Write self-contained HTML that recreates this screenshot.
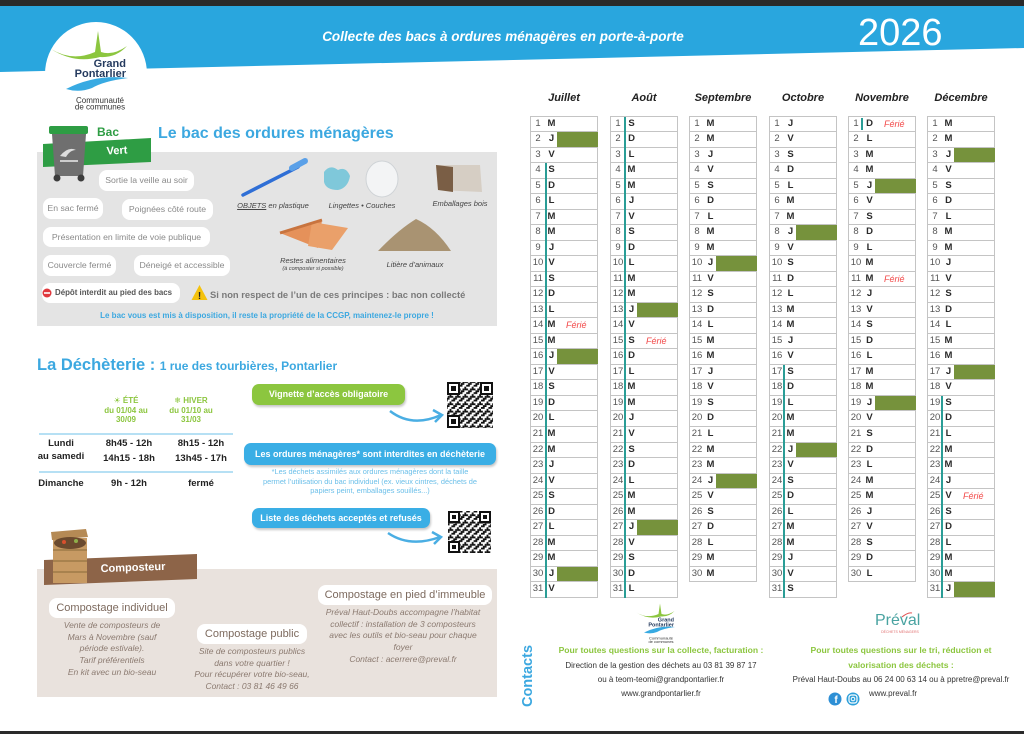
<!DOCTYPE html>
<html lang="fr"><head><meta charset="utf-8"><title>Collecte des bacs 2026</title>
<style>
*{margin:0;padding:0;box-sizing:border-box}
html,body{width:1024px;height:734px;overflow:hidden;background:#fff}
body{position:relative;font-family:"Liberation Sans","DejaVu Sans",Arial,sans-serif;color:#333}
svg text{font-family:"Liberation Sans","DejaVu Sans",Arial,sans-serif}
.a{position:absolute;white-space:nowrap}
.cen{text-align:center}
svg.bg{position:absolute;left:0;top:0}
.pill{position:absolute;background:#fff;border-radius:8px;text-align:center;color:#8a8a8a;font-size:8.7px;white-space:nowrap}
.cp{position:absolute;background:#fff;border-radius:8px;text-align:center;color:#7d6a5e;font-size:11px;white-space:nowrap;line-height:20px;height:20px}
.it{position:absolute;text-align:center;font-style:italic;color:#8b7a70;font-size:8.5px;line-height:11.7px;white-space:nowrap}
.btn{position:absolute;border-radius:7px;color:#fff;font-weight:bold;font-size:9px;text-align:center;white-space:nowrap;box-shadow:1px 2px 2px rgba(0,0,0,.22)}
.mh{position:absolute;top:91px;width:68px;text-align:center;font:italic bold 11px/14px "Liberation Sans",Arial,sans-serif;color:#222}
.c{position:absolute;top:115.7px;width:68px;border:1px solid #c4c4c4;border-bottom:none;background:#fff}
.r{position:relative;height:15.53px;border-bottom:1px solid #c4c4c4;font-size:9.5px;line-height:14.5px}
.r i{position:absolute;left:1px;width:12px;text-align:center;font-style:normal;color:#555}
.r b{position:absolute;left:15px;width:11px;text-align:center;color:#2a2a2a}
.g::after{content:"";position:absolute;left:26px;right:-1px;top:0;bottom:0;background:#76923c}
.r em{position:absolute;left:35px;color:#f24a4a;font-size:9px}
.tl{position:absolute;left:13px;width:2px;background:#2a9d96;z-index:2}
.cap{position:absolute;text-align:center;font-style:italic;color:#444;font-size:7.5px;white-space:nowrap}
.gr{color:#8cc63f;font-weight:bold;font-size:8px;line-height:9.5px}
.tm{position:absolute;text-align:center;font-weight:bold;font-size:9.5px;color:#222;white-space:nowrap;line-height:14px}
.ct{position:absolute;text-align:center;white-space:nowrap;font-size:8px;color:#333;line-height:14px}
.cg{position:absolute;text-align:center;white-space:nowrap;font-size:8.6px;color:#8cc63f;font-weight:bold;line-height:15px}
</style></head><body>

<svg class="bg" width="1024" height="734" viewBox="0 0 1024 734">
<defs>
<pattern id="q" width="7.4" height="7.4" patternUnits="userSpaceOnUse">
<rect width="7.4" height="7.4" fill="#fff"/>
<rect x="0" y="0" width="3.7" height="1.85" fill="#111"/>
<rect x="5.55" y="1.85" width="1.85" height="3.7" fill="#111"/>
<rect x="0" y="3.7" width="1.85" height="1.85" fill="#111"/>
<rect x="1.85" y="5.55" width="3.7" height="1.85" fill="#111"/>
<rect x="3.7" y="3.7" width="1.85" height="1.85" fill="#111"/>
</pattern>
</defs>
<rect x="0" y="0" width="1024" height="6" fill="#2a2a2a"/>
<rect x="0" y="731" width="1024" height="3" fill="#2a2a2a"/>
<polygon points="0,6 1024,6 1024,48 0,72" fill="#29a6de"/>
<ellipse cx="96" cy="74" rx="51" ry="52" fill="#fff"/>
<!-- main logo -->
<path d="M51,49 Q72,62 95,52 L98,31 L101,52 Q113,56 127,46 Q116,58 100,57 Q74,64 51,49Z" fill="#8cc63f"/>
<text x="126" y="67" text-anchor="end" font-weight="bold" font-size="11" fill="#243a5e">Grand</text>
<text x="126" y="77" text-anchor="end" font-weight="bold" font-size="11" fill="#243a5e">Pontarlier</text>
<path d="M66,89 Q96,74 128,78 Q104,81 92,88 Q79,93 66,89Z" fill="#38aae2"/>
<text x="100" y="103" text-anchor="middle" font-size="8" fill="#333">Communauté</text>
<text x="100" y="109.5" text-anchor="middle" font-size="8" fill="#333">de communes</text>

<!-- bac section -->
<rect x="37" y="152" width="460" height="174" fill="#e4e4e4"/>
<polygon points="43,144 151,138 151,162 43,167" fill="#2e9d44"/>
<rect x="49" y="126" width="39" height="8" rx="2" fill="#2e9d44"/>
<polygon points="52,134 86,134 83,176 55,176" fill="#6f6f6f"/>
<path d="M60,156 Q68,146 76,150 Q70,150 66,157Z" fill="#ddd"/>
<rect x="60" y="160" width="18" height="2" fill="#ccc"/>
<circle cx="57" cy="178" r="3.5" fill="#3c3c3c"/><circle cx="81" cy="178" r="3.5" fill="#3c3c3c"/>
<line x1="243" y1="195" x2="298" y2="167" stroke="#2f6fd6" stroke-width="3.5" stroke-linecap="round"/>
<line x1="292" y1="168" x2="305" y2="161" stroke="#5aa0e8" stroke-width="6" stroke-linecap="round"/>
<path d="M324,172 Q330,164 338,170 Q346,166 350,176 Q348,188 338,190 Q326,190 324,182Z" fill="#7fc8da"/>
<ellipse cx="382" cy="179" rx="16" ry="18" fill="#f3f4f5" stroke="#cfd3d6"/>
<path d="M436,165 L480,165 L482,192 L438,190Z" fill="#d6cec4"/>
<path d="M436,165 L453,167 L453,192 L438,190Z" fill="#7a5e45"/>
<polygon points="280,233 322,220 318,248" fill="#e5915a"/>
<polygon points="312,222 348,228 332,250 308,246" fill="#eaa06a"/>
<path d="M280,233 L322,220" stroke="#c8743f" stroke-width="3"/>
<path d="M378,251 Q398,230 416,219 Q436,228 451,251Z" fill="#a99372"/>
<polygon points="199.5,285 207.5,300 191.5,300" fill="#f4c20d"/>
<text x="199.5" y="299" text-anchor="middle" font-size="10" font-weight="bold" fill="#222">!</text>

<!-- dechetterie -->
<line x1="39" y1="434" x2="233" y2="434" stroke="#9dd5f0" stroke-width="1.5"/>
<line x1="39" y1="472" x2="233" y2="472" stroke="#9dd5f0" stroke-width="1.5"/>
<rect x="447" y="382" width="46" height="46" fill="url(#q)"/>
<g fill="#111"><rect x="447" y="382" width="13" height="13"/><rect x="480" y="382" width="13" height="13"/><rect x="447" y="415" width="13" height="13"/></g>
<g fill="#fff"><rect x="449" y="384" width="9" height="9"/><rect x="482" y="384" width="9" height="9"/><rect x="449" y="417" width="9" height="9"/></g>
<g fill="#111"><rect x="451" y="386" width="5" height="5"/><rect x="484" y="386" width="5" height="5"/><rect x="451" y="419" width="5" height="5"/></g>
<rect x="448" y="511" width="43" height="42" fill="url(#q)"/>
<g fill="#111"><rect x="448" y="511" width="12" height="12"/><rect x="479" y="511" width="12" height="12"/><rect x="448" y="541" width="12" height="12"/></g>
<g fill="#fff"><rect x="450" y="513" width="8" height="8"/><rect x="481" y="513" width="8" height="8"/><rect x="450" y="543" width="8" height="8"/></g>
<g fill="#111"><rect x="452" y="515" width="4" height="4"/><rect x="483" y="515" width="4" height="4"/><rect x="452" y="545" width="4" height="4"/></g>
<path d="M390,411 Q412,428 441,415" stroke="#4aaee3" stroke-width="2.5" fill="none"/>
<path d="M433,410 L442,415 L435,422" stroke="#4aaee3" stroke-width="2.5" fill="none"/>
<path d="M388,533 Q410,548 440,537" stroke="#4aaee3" stroke-width="2.5" fill="none"/>
<path d="M432,532 L441,537 L434,544" stroke="#4aaee3" stroke-width="2.5" fill="none"/>

<!-- composteur -->
<rect x="37" y="569" width="460" height="128" fill="#e9e2dd"/>
<polygon points="44,560 197,554 197,579 44,585" fill="#8d6448"/>
<rect x="53" y="538" width="34" height="45" fill="#c79a63"/>
<g stroke="#8a6a3a" stroke-width="1"><line x1="53" y1="550" x2="87" y2="550"/><line x1="53" y1="561" x2="87" y2="561"/><line x1="53" y1="572" x2="87" y2="572"/></g>
<polygon points="51,532 86,529 88,537 52,540" fill="#b58a55"/>
<ellipse cx="70" cy="543" rx="16" ry="6" fill="#6b4a2e"/>
<circle cx="64" cy="542" r="2" fill="#d9502e"/><circle cx="76" cy="541" r="2" fill="#8fb04a"/>

<!-- contacts icons -->
<circle cx="835" cy="699" r="6.5" fill="#2d8fd5"/>
<text x="836" y="703" text-anchor="middle" font-size="10" font-weight="bold" fill="#fff">f</text>
<circle cx="853" cy="699" r="6.5" fill="#2d9fd9"/>
<rect x="849" y="695" width="8" height="8" rx="2.5" fill="none" stroke="#fff" stroke-width="1.2"/>
<circle cx="853" cy="699" r="1.8" fill="none" stroke="#fff" stroke-width="1"/>

<!-- small GP logo -->
<g transform="translate(611,588) scale(0.5)">
<path d="M51,49 Q72,62 95,52 L98,31 L101,52 Q113,56 127,46 Q116,58 100,57 Q74,64 51,49Z" fill="#8cc63f"/>
<text x="126" y="67" text-anchor="end" font-weight="bold" font-size="11" fill="#243a5e">Grand</text>
<text x="126" y="77" text-anchor="end" font-weight="bold" font-size="11" fill="#243a5e">Pontarlier</text>
<path d="M66,89 Q96,74 128,78 Q104,81 92,88 Q79,93 66,89Z" fill="#38aae2"/>
<text x="100" y="103" text-anchor="middle" font-size="8" fill="#333">Communauté</text>
<text x="100" y="109.5" text-anchor="middle" font-size="8" fill="#333">de communes</text>
</g>
<path d="M902,617 Q908,612 912,613" stroke="#e05050" stroke-width="1" fill="none"/>
</svg>

<!-- header text -->
<div class="a cen" style="left:298px;top:29px;width:410px;font:italic bold 13.5px/16px 'Liberation Sans',Arial,sans-serif;color:#fff">Collecte des bacs à ordures ménagères en porte-à-porte</div>
<div class="a" style="left:858px;top:13px;font-size:38px;line-height:40px;color:#fff">2026</div>

<!-- bac -->
<div class="a" style="left:97px;top:125px;font-size:12px;line-height:14px;font-weight:bold;color:#2e9d44">Bac</div>
<div class="a cen" style="left:97px;top:145px;width:40px;font-size:11px;line-height:13px;font-weight:bold;color:#fff;transform:rotate(-3deg)">Vert</div>
<div class="a" style="left:158px;top:124px;font-size:16px;line-height:20px;font-weight:bold;color:#3ca8e0">Le bac des ordures ménagères</div>
<div class="pill" style="left:99px;top:170px;width:95px;height:21px;line-height:21px">Sortie la veille au soir</div>
<div class="pill" style="left:43px;top:198px;width:60px;height:21px;line-height:21px">En sac fermé</div>
<div class="pill" style="left:122px;top:199px;width:91px;height:21px;line-height:21px">Poignées côté route</div>
<div class="pill" style="left:43px;top:227px;width:167px;height:20px;line-height:20px">Présentation en limite de voie publique</div>
<div class="pill" style="left:43px;top:255px;width:73px;height:21px;line-height:21px">Couvercle fermé</div>
<div class="pill" style="left:134px;top:255px;width:96px;height:21px;line-height:21px">Déneigé et accessible</div>
<div class="pill" style="left:42px;top:283px;width:138px;height:20px;line-height:20px;text-align:left;padding-left:13px;font-weight:bold;color:#555;font-size:7.9px">Dépôt interdit au pied des bacs</div>
<svg class="bg" width="1024" height="734" style="pointer-events:none"><circle cx="47" cy="293" r="4.5" fill="#e0393e"/><rect x="44" y="292.2" width="6" height="1.6" fill="#fff"/></svg>
<div class="a" style="left:210px;top:288px;font-size:9.4px;line-height:14px;font-weight:bold;color:#7a7a7a">Si non respect de l’un de ces principes : bac non collecté</div>
<div class="a cen" style="left:57px;top:310px;width:420px;font-size:8px;line-height:12px;font-weight:bold;color:#3ca8e0">Le bac vous est mis à disposition, il reste la propriété de la CCGP, maintenez-le propre !</div>
<div class="cap" style="left:223px;top:201px;width:100px;line-height:10px"><u>OBJETS</u> en plastique</div>
<div class="cap" style="left:312px;top:201px;width:100px;line-height:10px">Lingettes • Couches</div>
<div class="cap" style="left:410px;top:199px;width:100px;line-height:10px">Emballages bois</div>
<div class="cap" style="left:263px;top:256px;width:100px;line-height:10px">Restes alimentaires</div>
<div class="cap" style="left:263px;top:266px;width:100px;line-height:6px;font-size:5.5px">(à composter si possible)</div>
<div class="cap" style="left:365px;top:260px;width:100px;line-height:10px">Litière d’animaux</div>

<!-- dechetterie -->
<div class="a" style="left:37px;top:355px;line-height:20px;color:#3ca8e0;font-weight:bold"><span style="font-size:16.5px">La Déchèterie :</span> <span style="font-size:12px">1 rue des tourbières, Pontarlier</span></div>
<div class="a cen gr" style="left:86px;top:396px;width:80px">☀ ÉTÉ<br>du 01/04 au<br>30/09</div>
<div class="a cen gr" style="left:151px;top:396px;width:80px">❄ HIVER<br>du 01/10 au<br>31/03</div>
<div class="tm" style="left:21px;top:437px;width:80px">Lundi</div>
<div class="tm" style="left:21px;top:450px;width:80px">au samedi</div>
<div class="tm" style="left:89px;top:437px;width:80px">8h45 - 12h</div>
<div class="tm" style="left:89px;top:452px;width:80px">14h15 - 18h</div>
<div class="tm" style="left:161px;top:437px;width:80px">8h15 - 12h</div>
<div class="tm" style="left:161px;top:452px;width:80px">13h45 - 17h</div>
<div class="tm" style="left:21px;top:477px;width:80px">Dimanche</div>
<div class="tm" style="left:89px;top:477px;width:80px">9h - 12h</div>
<div class="tm" style="left:161px;top:477px;width:80px">fermé</div>
<div class="btn" style="left:252px;top:384px;width:153px;height:21px;line-height:20px;background:#8cc63f">Vignette d’accès obligatoire</div>
<div class="btn" style="left:244px;top:443px;width:252px;height:22px;line-height:22px;background:#3aaee5">Les ordures ménagères* sont interdites en déchèterie</div>
<div class="a cen" style="left:240px;top:467px;width:260px;font-size:7.4px;line-height:9.5px;color:#6bbfe9">*Les déchets assimilés aux ordures ménagères dont la taille<br>permet l’utilisation du bac individuel (ex. vieux cintres, déchets de<br>papiers peint, emballages souillés...)</div>
<div class="btn" style="left:252px;top:508px;width:178px;height:20px;line-height:20px;background:#3aaee5">Liste des déchets acceptés et refusés</div>

<!-- composteur -->
<div class="a cen" style="left:93px;top:561px;width:80px;font-size:11px;line-height:14px;font-weight:bold;color:#fff;transform:rotate(-2deg)">Composteur</div>
<div class="cp" style="left:49px;top:598px;width:126px">Compostage individuel</div>
<div class="cp" style="left:197px;top:624px;width:110px">Compostage public</div>
<div class="cp" style="left:318px;top:585px;width:174px">Compostage en pied d’immeuble</div>
<div class="it" style="left:42px;top:620px;width:140px">Vente de composteurs de<br>Mars à Novembre (sauf<br>période estivale).<br>Tarif préférentiels<br>En kit avec un bio-seau</div>
<div class="it" style="left:182px;top:646px;width:140px">Site de composteurs publics<br>dans votre quartier !<br>Pour récupérer votre bio-seau,<br>Contact : 03 81 46 49 66</div>
<div class="it" style="left:313px;top:607px;width:180px">Préval Haut-Doubs accompagne l’habitat<br>collectif : installation de 3 composteurs<br>avec les outils et bio-seau pour chaque<br>foyer<br>Contact : acerrere@preval.fr</div>

<!-- contacts -->
<div class="a cen" style="left:488px;top:667px;width:80px;height:18px;font-size:14.5px;line-height:18px;font-weight:bold;color:#3ca8e0;transform:rotate(-90deg)">Contacts</div>
<div class="cg" style="left:540px;top:643px;width:242px">Pour toutes questions sur la collecte, facturation :</div>
<div class="ct" style="left:541px;top:659px;width:240px">Direction de la gestion des déchets au 03 81 39 87 17</div>
<div class="ct" style="left:541px;top:673px;width:240px">ou à teom-teomi@grandpontarlier.fr</div>
<div class="ct" style="left:541px;top:687px;width:240px">www.grandpontarlier.fr</div>
<div class="a" style="left:875px;top:611px;font-size:16px;line-height:20px;color:#49a3a1">Préval</div>
<div class="a cen" style="left:880px;top:630px;width:40px;font-size:3.5px;line-height:4px;color:#e07070">DÉCHETS MÉNAGERS</div>
<div class="cg" style="left:780px;top:643px;width:242px">Pour toutes questions sur le tri, réduction et</div>
<div class="cg" style="left:780px;top:658px;width:242px">valorisation des déchets :</div>
<div class="ct" style="left:776px;top:673px;width:250px">Préval Haut-Doubs au 06 24 00 63 14 ou à ppretre@preval.fr</div>
<div class="ct" style="left:869px;top:687px">www.preval.fr</div>

<!-- calendar headers -->
<div class="mh" style="left:530px">Juillet</div>
<div class="mh" style="left:610px">Août</div>
<div class="mh" style="left:689px">Septembre</div>
<div class="mh" style="left:769px">Octobre</div>
<div class="mh" style="left:848px">Novembre</div>
<div class="mh" style="left:927px">Décembre</div>

<!-- Juillet -->
<div class="c" style="left:530px">
<div class="r"><i>1</i><b>M</b></div>
<div class="r g"><i>2</i><b>J</b></div>
<div class="r"><i>3</i><b>V</b></div>
<div class="r"><i>4</i><b>S</b></div>
<div class="r"><i>5</i><b>D</b></div>
<div class="r"><i>6</i><b>L</b></div>
<div class="r"><i>7</i><b>M</b></div>
<div class="r"><i>8</i><b>M</b></div>
<div class="r"><i>9</i><b>J</b></div>
<div class="r"><i>10</i><b>V</b></div>
<div class="r"><i>11</i><b>S</b></div>
<div class="r"><i>12</i><b>D</b></div>
<div class="r"><i>13</i><b>L</b></div>
<div class="r"><i>14</i><b>M</b><em>Férié</em></div>
<div class="r"><i>15</i><b>M</b></div>
<div class="r g"><i>16</i><b>J</b></div>
<div class="r"><i>17</i><b>V</b></div>
<div class="r"><i>18</i><b>S</b></div>
<div class="r"><i>19</i><b>D</b></div>
<div class="r"><i>20</i><b>L</b></div>
<div class="r"><i>21</i><b>M</b></div>
<div class="r"><i>22</i><b>M</b></div>
<div class="r"><i>23</i><b>J</b></div>
<div class="r"><i>24</i><b>V</b></div>
<div class="r"><i>25</i><b>S</b></div>
<div class="r"><i>26</i><b>D</b></div>
<div class="r"><i>27</i><b>L</b></div>
<div class="r"><i>28</i><b>M</b></div>
<div class="r"><i>29</i><b>M</b></div>
<div class="r g"><i>30</i><b>J</b></div>
<div class="r"><i>31</i><b>V</b></div>
<div class="tl" style="left:14px;top:46.6px;height:434.8px"></div>
</div>

<!-- Août -->
<div class="c" style="left:610px">
<div class="r"><i>1</i><b>S</b></div>
<div class="r"><i>2</i><b>D</b></div>
<div class="r"><i>3</i><b>L</b></div>
<div class="r"><i>4</i><b>M</b></div>
<div class="r"><i>5</i><b>M</b></div>
<div class="r"><i>6</i><b>J</b></div>
<div class="r"><i>7</i><b>V</b></div>
<div class="r"><i>8</i><b>S</b></div>
<div class="r"><i>9</i><b>D</b></div>
<div class="r"><i>10</i><b>L</b></div>
<div class="r"><i>11</i><b>M</b></div>
<div class="r"><i>12</i><b>M</b></div>
<div class="r g"><i>13</i><b>J</b></div>
<div class="r"><i>14</i><b>V</b></div>
<div class="r"><i>15</i><b>S</b><em>Férié</em></div>
<div class="r"><i>16</i><b>D</b></div>
<div class="r"><i>17</i><b>L</b></div>
<div class="r"><i>18</i><b>M</b></div>
<div class="r"><i>19</i><b>M</b></div>
<div class="r"><i>20</i><b>J</b></div>
<div class="r"><i>21</i><b>V</b></div>
<div class="r"><i>22</i><b>S</b></div>
<div class="r"><i>23</i><b>D</b></div>
<div class="r"><i>24</i><b>L</b></div>
<div class="r"><i>25</i><b>M</b></div>
<div class="r"><i>26</i><b>M</b></div>
<div class="r g"><i>27</i><b>J</b></div>
<div class="r"><i>28</i><b>V</b></div>
<div class="r"><i>29</i><b>S</b></div>
<div class="r"><i>30</i><b>D</b></div>
<div class="r"><i>31</i><b>L</b></div>
<div class="tl" style="top:0;height:481.4px"></div>
</div>

<!-- Septembre -->
<div class="c" style="left:689px">
<div class="r"><i>1</i><b>M</b></div>
<div class="r"><i>2</i><b>M</b></div>
<div class="r"><i>3</i><b>J</b></div>
<div class="r"><i>4</i><b>V</b></div>
<div class="r"><i>5</i><b>S</b></div>
<div class="r"><i>6</i><b>D</b></div>
<div class="r"><i>7</i><b>L</b></div>
<div class="r"><i>8</i><b>M</b></div>
<div class="r"><i>9</i><b>M</b></div>
<div class="r g"><i>10</i><b>J</b></div>
<div class="r"><i>11</i><b>V</b></div>
<div class="r"><i>12</i><b>S</b></div>
<div class="r"><i>13</i><b>D</b></div>
<div class="r"><i>14</i><b>L</b></div>
<div class="r"><i>15</i><b>M</b></div>
<div class="r"><i>16</i><b>M</b></div>
<div class="r"><i>17</i><b>J</b></div>
<div class="r"><i>18</i><b>V</b></div>
<div class="r"><i>19</i><b>S</b></div>
<div class="r"><i>20</i><b>D</b></div>
<div class="r"><i>21</i><b>L</b></div>
<div class="r"><i>22</i><b>M</b></div>
<div class="r"><i>23</i><b>M</b></div>
<div class="r g"><i>24</i><b>J</b></div>
<div class="r"><i>25</i><b>V</b></div>
<div class="r"><i>26</i><b>S</b></div>
<div class="r"><i>27</i><b>D</b></div>
<div class="r"><i>28</i><b>L</b></div>
<div class="r"><i>29</i><b>M</b></div>
<div class="r"><i>30</i><b>M</b></div>
</div>

<!-- Octobre -->
<div class="c" style="left:769px">
<div class="r"><i>1</i><b>J</b></div>
<div class="r"><i>2</i><b>V</b></div>
<div class="r"><i>3</i><b>S</b></div>
<div class="r"><i>4</i><b>D</b></div>
<div class="r"><i>5</i><b>L</b></div>
<div class="r"><i>6</i><b>M</b></div>
<div class="r"><i>7</i><b>M</b></div>
<div class="r g"><i>8</i><b>J</b></div>
<div class="r"><i>9</i><b>V</b></div>
<div class="r"><i>10</i><b>S</b></div>
<div class="r"><i>11</i><b>D</b></div>
<div class="r"><i>12</i><b>L</b></div>
<div class="r"><i>13</i><b>M</b></div>
<div class="r"><i>14</i><b>M</b></div>
<div class="r"><i>15</i><b>J</b></div>
<div class="r"><i>16</i><b>V</b></div>
<div class="r"><i>17</i><b>S</b></div>
<div class="r"><i>18</i><b>D</b></div>
<div class="r"><i>19</i><b>L</b></div>
<div class="r"><i>20</i><b>M</b></div>
<div class="r"><i>21</i><b>M</b></div>
<div class="r g"><i>22</i><b>J</b></div>
<div class="r"><i>23</i><b>V</b></div>
<div class="r"><i>24</i><b>S</b></div>
<div class="r"><i>25</i><b>D</b></div>
<div class="r"><i>26</i><b>L</b></div>
<div class="r"><i>27</i><b>M</b></div>
<div class="r"><i>28</i><b>M</b></div>
<div class="r"><i>29</i><b>J</b></div>
<div class="r"><i>30</i><b>V</b></div>
<div class="r"><i>31</i><b>S</b></div>
<div class="tl" style="top:248.5px;height:233px"></div>
</div>

<!-- Novembre -->
<div class="c" style="left:848px">
<div class="r"><i>1</i><b>D</b><em>Férié</em></div>
<div class="r"><i>2</i><b>L</b></div>
<div class="r"><i>3</i><b>M</b></div>
<div class="r"><i>4</i><b>M</b></div>
<div class="r g"><i>5</i><b>J</b></div>
<div class="r"><i>6</i><b>V</b></div>
<div class="r"><i>7</i><b>S</b></div>
<div class="r"><i>8</i><b>D</b></div>
<div class="r"><i>9</i><b>L</b></div>
<div class="r"><i>10</i><b>M</b></div>
<div class="r"><i>11</i><b>M</b><em>Férié</em></div>
<div class="r"><i>12</i><b>J</b></div>
<div class="r"><i>13</i><b>V</b></div>
<div class="r"><i>14</i><b>S</b></div>
<div class="r"><i>15</i><b>D</b></div>
<div class="r"><i>16</i><b>L</b></div>
<div class="r"><i>17</i><b>M</b></div>
<div class="r"><i>18</i><b>M</b></div>
<div class="r g"><i>19</i><b>J</b></div>
<div class="r"><i>20</i><b>V</b></div>
<div class="r"><i>21</i><b>S</b></div>
<div class="r"><i>22</i><b>D</b></div>
<div class="r"><i>23</i><b>L</b></div>
<div class="r"><i>24</i><b>M</b></div>
<div class="r"><i>25</i><b>M</b></div>
<div class="r"><i>26</i><b>J</b></div>
<div class="r"><i>27</i><b>V</b></div>
<div class="r"><i>28</i><b>S</b></div>
<div class="r"><i>29</i><b>D</b></div>
<div class="r"><i>30</i><b>L</b></div>
<div class="tl" style="left:12px;top:1.5px;height:12px"></div>
</div>

<!-- Décembre -->
<div class="c" style="left:927px">
<div class="r"><i>1</i><b>M</b></div>
<div class="r"><i>2</i><b>M</b></div>
<div class="r g"><i>3</i><b>J</b></div>
<div class="r"><i>4</i><b>V</b></div>
<div class="r"><i>5</i><b>S</b></div>
<div class="r"><i>6</i><b>D</b></div>
<div class="r"><i>7</i><b>L</b></div>
<div class="r"><i>8</i><b>M</b></div>
<div class="r"><i>9</i><b>M</b></div>
<div class="r"><i>10</i><b>J</b></div>
<div class="r"><i>11</i><b>V</b></div>
<div class="r"><i>12</i><b>S</b></div>
<div class="r"><i>13</i><b>D</b></div>
<div class="r"><i>14</i><b>L</b></div>
<div class="r"><i>15</i><b>M</b></div>
<div class="r"><i>16</i><b>M</b></div>
<div class="r g"><i>17</i><b>J</b></div>
<div class="r"><i>18</i><b>V</b></div>
<div class="r"><i>19</i><b>S</b></div>
<div class="r"><i>20</i><b>D</b></div>
<div class="r"><i>21</i><b>L</b></div>
<div class="r"><i>22</i><b>M</b></div>
<div class="r"><i>23</i><b>M</b></div>
<div class="r"><i>24</i><b>J</b></div>
<div class="r"><i>25</i><b>V</b><em>Férié</em></div>
<div class="r"><i>26</i><b>S</b></div>
<div class="r"><i>27</i><b>D</b></div>
<div class="r"><i>28</i><b>L</b></div>
<div class="r"><i>29</i><b>M</b></div>
<div class="r"><i>30</i><b>M</b></div>
<div class="r g"><i>31</i><b>J</b></div>
<div class="tl" style="top:279.5px;height:201.9px"></div>
</div>

</body></html>
